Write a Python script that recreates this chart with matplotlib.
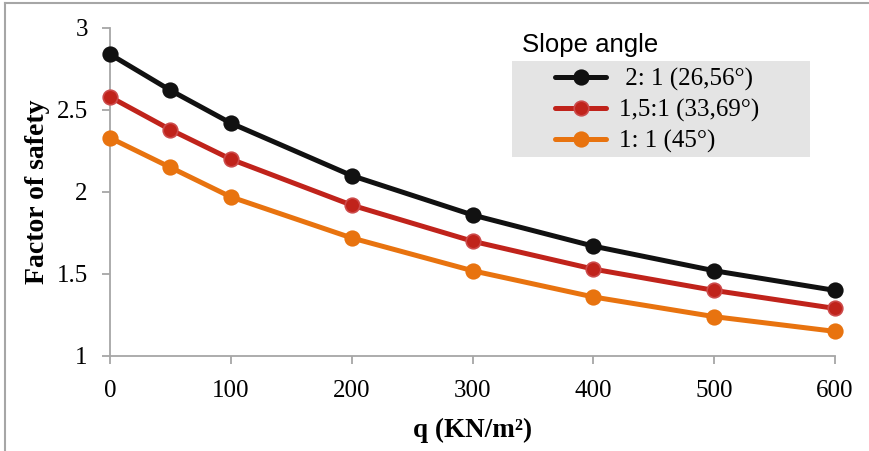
import matplotlib
matplotlib.use("Agg")
import matplotlib.pyplot as plt
from matplotlib.lines import Line2D
from matplotlib.patches import Rectangle

q = [0, 50, 100, 200, 300, 400, 500, 600]
fs_21 = [2.84, 2.62, 2.42, 2.10, 1.86, 1.67, 1.52, 1.40]
fs_151 = [2.58, 2.38, 2.20, 1.92, 1.70, 1.53, 1.40, 1.29]
fs_11 = [2.33, 2.15, 1.97, 1.72, 1.52, 1.36, 1.24, 1.15]
labels = [" 2: 1 (26,56°)", "1,5:1 (33,69°)", "1: 1 (45°)"]
xticks = [0, 100, 200, 300, 400, 500, 600]
yticks = [1, 1.5, 2, 2.5, 3]
ytick_labels = ["1", "1.5", "2", "2.5", "3"]

W, H = 869, 451
fig = plt.figure(figsize=(W / 100, H / 100), dpi=100)
ax = fig.add_axes([110 / W, 1 - 356 / H, (835 - 110) / W, (356 - 28) / H])

serif = "Liberation Serif"
colors = ["#111111", "#c0231b", "#e8730f"]
edges = ["#111111", "#cc4a4a", "#e8730f"]
style = dict(lw=3.6, marker="o", ms=10.5, mew=1.2)
for ys, c, e, lab in zip([fs_21, fs_151, fs_11], colors, edges, labels):
    ax.plot(q, ys, color=c, mfc=c, mec=e, label=lab, clip_on=False, zorder=3, **style)

ax.set_xlim(0, 600)
ax.set_ylim(1, 3)
ax.set_xticks(xticks)
ax.set_xticklabels([str(v) for v in xticks])
ax.set_yticks(yticks)
ax.set_yticklabels(ytick_labels)
for s in ["top", "right"]:
    ax.spines[s].set_visible(False)
for s in ["left", "bottom"]:
    ax.spines[s].set_color("#a6a6a6")
    ax.spines[s].set_linewidth(1.3)
ax.tick_params(axis="both", colors="#a6a6a6", width=1.3, length=6, direction="out",
               labelcolor="black", labelsize=18)
ax.tick_params(axis="x", pad=11)
ax.tick_params(axis="y", pad=10)
for t in ax.get_xticklabels() + ax.get_yticklabels():
    t.set_fontfamily(serif)

ax.set_xlabel("q (KN/m²)", fontfamily=serif, fontweight="bold", fontsize=19.5)
ax.xaxis.set_label_coords(0.5, -0.19)
ax.set_ylabel("Factor of safety", fontfamily=serif, fontweight="bold", fontsize=20)
ax.yaxis.set_label_coords(-0.083, 0.5)

# manual legend (figure pixel coordinates)
def fx(px):
    return px / W

def fy(py):
    return 1 - py / H

fig.add_artist(Rectangle((fx(512), fy(157)), fx(810) - fx(512), fy(61) - fy(157),
                         facecolor="#e4e4e4", edgecolor="none", transform=fig.transFigure,
                         zorder=1))
rows = [77, 108, 139]
for row, c, e, lab in zip(rows, colors, edges, labels):
    fig.add_artist(Line2D([fx(555), fx(606)], [fy(row), fy(row)], color=c, lw=3.6,
                          solid_capstyle="round", transform=fig.transFigure, zorder=2))
    fig.add_artist(Line2D([fx(580.5)], [fy(row)], color=c, marker="o", ms=10.5, mfc=c,
                          mec=e, mew=1.2, transform=fig.transFigure, zorder=3))
    fig.text(fx(619), fy(row), lab, fontfamily=serif, fontsize=18, va="center_baseline",
             ha="left", zorder=3)

fig.text(fx(522), fy(45), "Slope angle", fontfamily="Liberation Sans", fontsize=18.5,
         va="center", ha="left")

# figure border (left and top)
fig.add_artist(Line2D([fx(5), fx(5)], [0, fy(3)], color="#a6a6a6", lw=1.5,
                      transform=fig.transFigure))
fig.add_artist(Line2D([fx(5), 1], [fy(3), fy(3)], color="#a6a6a6", lw=1.5,
                      transform=fig.transFigure))

fig.savefig("out.png", dpi=100)
